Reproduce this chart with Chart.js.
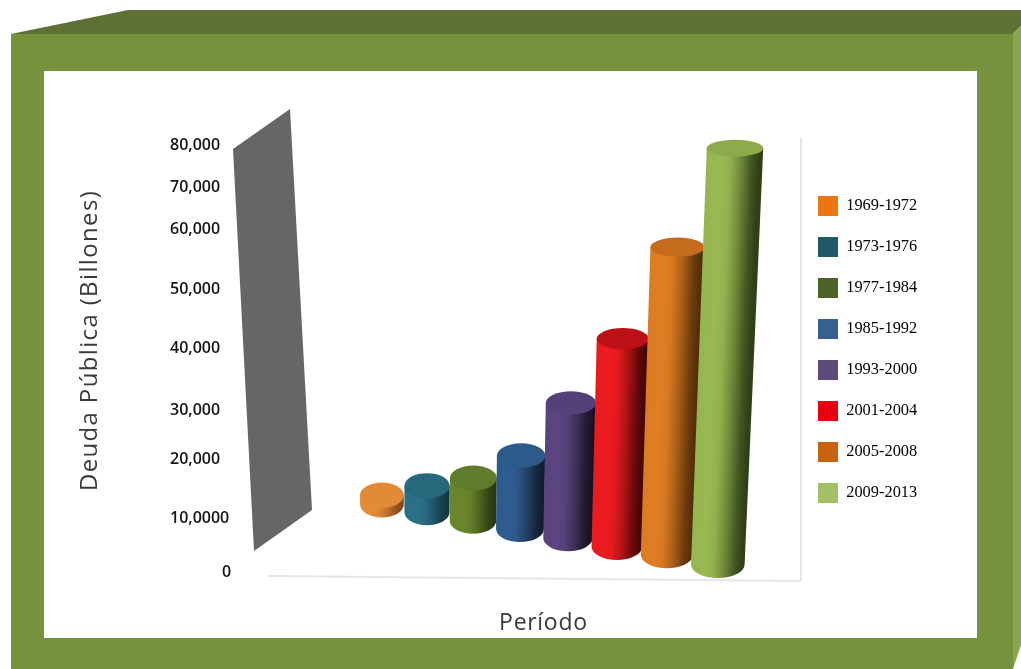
<!DOCTYPE html>
<html lang="es">
<head>
<meta charset="utf-8">
<title>Deuda Pública</title>
<script src="https://cdn.jsdelivr.net/npm/chart.js@4"></script>
<style>
  html, body { margin: 0; padding: 0; background: #fff; }
  canvas { display: block; }
</style>
</head>
<body>
<canvas id="debt-chart" width="1021" height="669"></canvas>
<script>
const periods = ["1969-1972", "1973-1976", "1977-1984", "1985-1992", "1993-2000", "2001-2004", "2005-2008", "2009-2013"];

// each cylinder floats: it starts on the receding floor and ends at its debt level
const floorValues = [12100, 10800, 9300, 7800, 6100, 4500, 3000, 1200];
const debtValues = [13700, 15300, 16600, 20500, 31000, 41400, 56800, 79000];

const tickValues = [0, 10000, 20000, 30000, 40000, 50000, 60000, 70000, 80000];
const tickLabels = ["0", "10,0000", "20,000", "30,000", "40,000", "50,000", "60,000", "70,000", "80,000"];

const legendColors = ["#ee7311", "#215968", "#4f6228", "#366092", "#604a7b", "#e8000f", "#c9620e", "#a2c164"];
const capColors = ["#e28a36", "#27687d", "#5f7c2b", "#2c5a8a", "#56407a", "#bd1016", "#c46c1c", "#8bab4c"];
const sideLight = ["#e58e37", "#2c7087", "#6b872d", "#2f5d90", "#5c4581", "#ee1c20", "#e17e23", "#99ba52"];
const sideDark = ["#80481a", "#113744", "#2b3810", "#121c2f", "#17121f", "#470505", "#532e08", "#2f3f17"];

// Draws an axis title nudged along x/y and with some tracking
function drawShiftedTitle(scale, drawTitle) {
  const ctx = scale.ctx;
  const { dx, dy, tracking } = scale.options.titleStyle;
  ctx.save();
  ctx.translate(dx, dy);
  ctx.letterSpacing = tracking;
  drawTitle();
  ctx.restore();
}

// Linear axis whose ticks sit at hand-placed fractions of its length
class SteppedLinearScale extends Chart.LinearScale {
  static id = "steppedLinear";

  getPixelForValue(value) {
    const stops = this.options.stops;
    let i = 1;
    while (i < tickValues.length - 1 && value > tickValues[i]) i++;
    const t = (value - tickValues[i - 1]) / (tickValues[i] - tickValues[i - 1]);
    return this.getPixelForDecimal(stops[i - 1] + t * (stops[i] - stops[i - 1]));
  }

  _computeLabelItems(chartArea) {
    const items = super._computeLabelItems(chartArea);
    items.forEach(item => {
      item.options.translation[0] += this.options.labelIndent;
      item.options.translation[1] += 1;
      if (item.label === "0") item.options.translation[0] += this.options.zeroIndent;
    });
    return items;
  }

  drawTitle() {
    drawShiftedTitle(this, () => super.drawTitle());
  }
}

// Category axis that spreads the categories out towards the viewer
class DepthCategoryScale extends Chart.CategoryScale {
  static id = "depthCategory";

  getPixelForDecimal(d) {
    const { start, slope, curve } = this.options.depth;
    return super.getPixelForDecimal(start + slope * d + curve * d * d);
  }

  drawTitle() {
    drawShiftedTitle(this, () => super.drawTitle());
  }
}

Chart.register(SteppedLinearScale, DepthCategoryScale);

const framePlugin = {
  id: "frame",
  beforeDraw(chart) {
    const ctx = chart.ctx;
    const shape = (color, points) => {
      ctx.fillStyle = color;
      ctx.beginPath();
      points.forEach(([x, y], i) => (i ? ctx.lineTo(x, y) : ctx.moveTo(x, y)));
      ctx.closePath();
      ctx.fill();
    };
    ctx.save();
    shape("#76923c", [[11, 34], [1013, 34], [1013, 669], [11, 669]]);
    shape("#5f7035", [[11, 34], [128, 10], [1021, 10], [1021, 26], [1013, 34]]);
    shape("#8aa650", [[1013, 34], [1021, 26], [1021, 645], [1013, 669]]);
    shape("#ffffff", [[44, 71], [977, 71], [977, 638], [44, 638]]);

    // back wall, floor and right edge of the 3D plot box
    shape("#666666", [[233, 149], [290, 109], [312, 510], [254, 551]]);
    ctx.strokeStyle = "#e6e6e6";
    ctx.lineWidth = 2;
    ctx.beginPath();
    ctx.moveTo(268, 576);
    ctx.lineTo(801, 581);
    ctx.moveTo(801, 137);
    ctx.lineTo(801, 581);
    ctx.stroke();
    ctx.restore();
  },
  afterLayout(chart, args, opts) {
    chart.legend.left = opts.legendLeft;
    chart.legend.top = opts.legendTop;
  }
};

// Replaces the flat bars with cylinders that lean away from a vanishing line
const cylinderPlugin = {
  id: "cylinders",
  beforeDatasetDraw(chart, args, opts) {
    const ctx = chart.ctx;
    const count = args.meta.data.length;
    const radiusY = y => opts.capBase + opts.capGrowth * y;
    const blend = (i, weight) => Chart.helpers.color(sideLight[i]).mix(Chart.helpers.color(sideDark[i]), weight).hexString();

    args.meta.data.forEach((bar, i) => {
      const baseW = bar.width * (opts.nearWidth + opts.widthGrowth * i / (count - 1));
      const rise = bar.base - bar.y;
      const spread = 1 + opts.spread * rise;
      const topX = opts.vanishX + (bar.x - opts.vanishX) * spread;
      const topW = baseW * spread;
      const baseRy = radiusY(bar.base);
      const topRy = radiusY(bar.y);

      ctx.save();
      ctx.beginPath();
      ctx.moveTo(topX - topW / 2, bar.y);
      ctx.lineTo(bar.x - baseW / 2, bar.base);
      ctx.ellipse(bar.x, bar.base, baseW / 2, baseRy, 0, Math.PI, 0, true);
      ctx.lineTo(topX + topW / 2, bar.y);
      ctx.closePath();

      // the shading leans with the cylinder
      ctx.save();
      ctx.transform(1, 0, (bar.x - topX) / rise, 1, (topX - bar.x) * bar.base / rise, 0);
      const shade = ctx.createLinearGradient(bar.x - baseW / 2, 0, bar.x + baseW / 2, 0);
      shade.addColorStop(0, blend(i, 0.96));
      shade.addColorStop(0.25, sideLight[i]);
      shade.addColorStop(0.42, blend(i, 0.93));
      shade.addColorStop(0.62, blend(i, 0.6));
      shade.addColorStop(0.82, blend(i, 0.18));
      shade.addColorStop(0.96, sideDark[i]);
      shade.addColorStop(1, sideDark[i]);
      ctx.fillStyle = shade;
      ctx.fill();
      ctx.restore();

      ctx.beginPath();
      ctx.ellipse(topX, bar.y, topW / 2, topRy, 0, 0, Math.PI * 2);
      ctx.fillStyle = capColors[i];
      ctx.fill();
      ctx.restore();
    });
    return false;
  }
};

new Chart(document.getElementById("debt-chart"), {
  type: "bar",
  data: {
    labels: periods,
    datasets: [{
      label: "Deuda Pública",
      data: debtValues.map((v, i) => [floorValues[i], v]),
      backgroundColor: legendColors,
      barPercentage: 1,
      categoryPercentage: 1
    }]
  },
  options: {
    responsive: false,
    animation: false,
    events: [],
    layout: { padding: { top: 144, left: 76, right: 94, bottom: 34 } },
    scales: {
      x: {
        type: "depthCategory",
        depth: { start: 0.1736, slope: 0.6664, curve: 0.0595 },
        titleStyle: { dx: 11, dy: 2, tracking: "0.7px" },
        afterFit: scale => { scale.height = 64; },
        grid: { display: false },
        border: { display: false },
        ticks: { display: false },
        title: {
          display: true,
          text: "Período",
          color: "#3a3a3a",
          padding: 0,
          font: { family: "'Open Sans'", size: 23 }
        }
      },
      y: {
        type: "steppedLinear",
        min: 0,
        max: 80000,
        stops: [0, 0.1265, 0.2646, 0.3794, 0.5246, 0.6628, 0.8033, 0.9016, 1],
        labelIndent: 94,
        zeroIndent: 52,
        titleStyle: { dx: 0, dy: -17, tracking: "1.35px" },
        afterFit: scale => { scale.width = 192; },
        grid: { display: false, drawTicks: false },
        border: { display: false },
        ticks: {
          stepSize: 10000,
          autoSkip: false,
          crossAlign: "far",
          padding: 39,
          color: "#141414",
          font: { family: "'Open Sans'", size: 16, weight: 600 },
          callback: (value, index) => tickLabels[index]
        },
        title: {
          display: true,
          text: "Deuda Pública (Billones)",
          color: "#3a3a3a",
          padding: 0,
          font: { family: "'Open Sans'", size: 24 }
        }
      }
    },
    plugins: {
      tooltip: { enabled: false },
      frame: { legendLeft: 797, legendTop: 175 },
      cylinders: {
        vanishX: 400,
        spread: 0.00013,
        capBase: 6.5,
        capGrowth: 0.0125,
        nearWidth: 0.97,
        widthGrowth: 0.22
      },
      legend: {
        position: "right",
        align: "start",
        labels: {
          boxWidth: 20,
          boxHeight: 20,
          padding: 21,
          color: "#222222",
          font: { family: "'Liberation Serif'", size: 16.4 },
          generateLabels: chart => chart.data.labels.map((text, i) => ({
            text,
            fillStyle: legendColors[i],
            strokeStyle: legendColors[i],
            lineWidth: 0,
            index: i
          }))
        }
      }
    }
  },
  plugins: [framePlugin, cylinderPlugin]
});
</script>
</body>
</html>
